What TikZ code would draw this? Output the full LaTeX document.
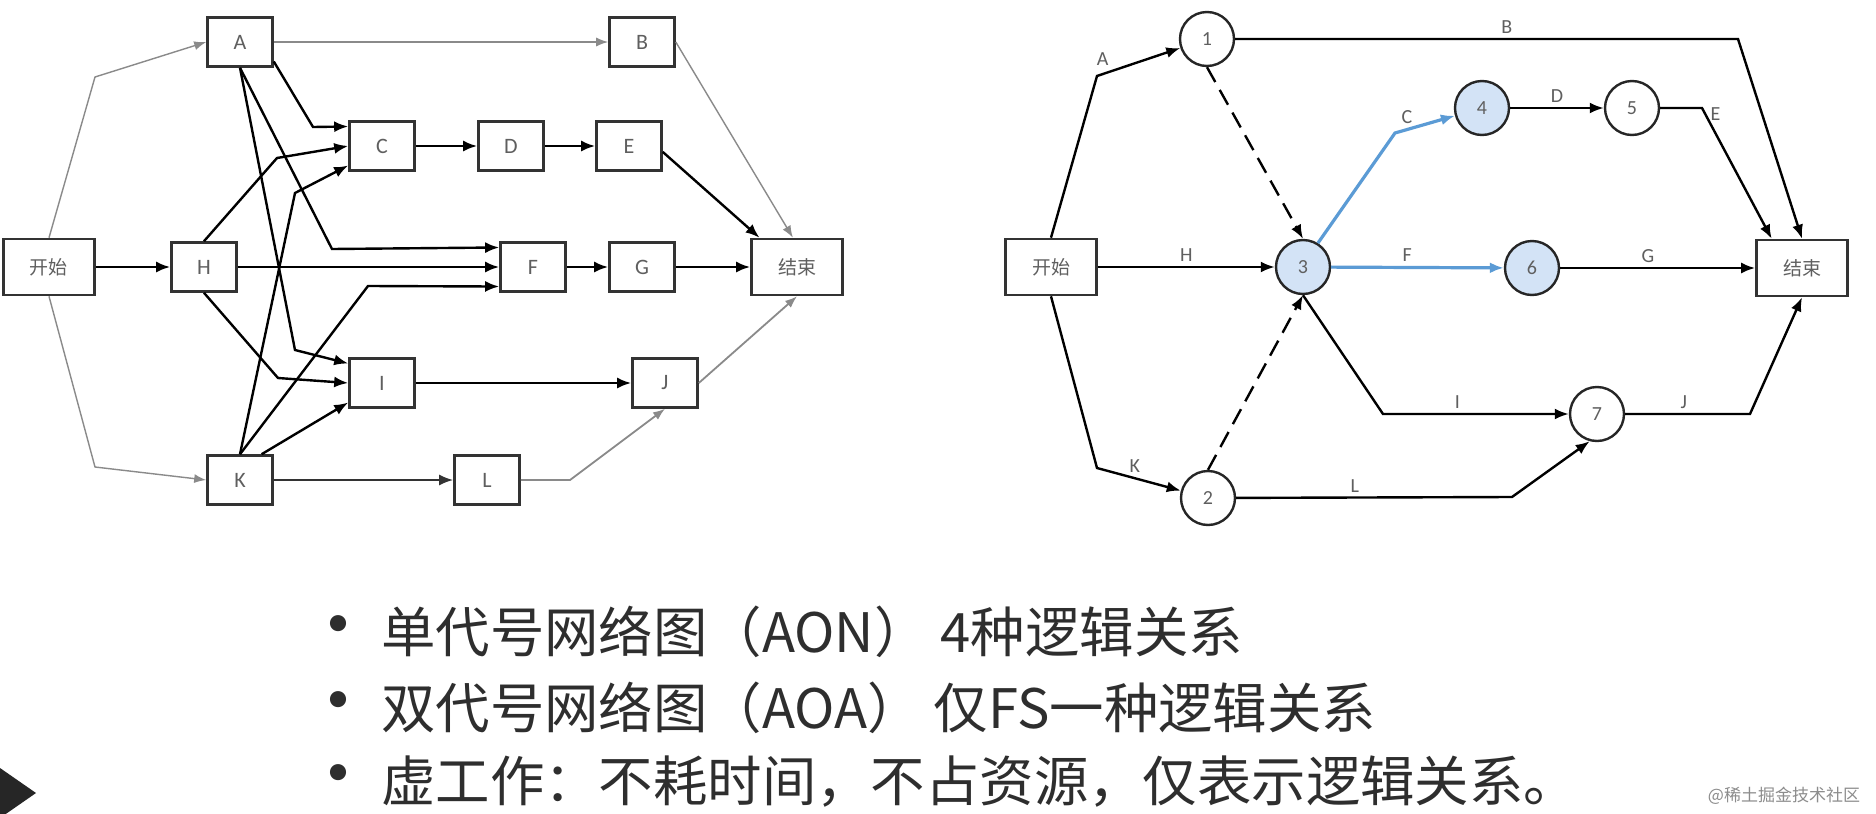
\documentclass[tikz,border=0pt]{standalone}
\usepackage{fontspec}
\setsansfont{Carlito}
\newfontfamily\cjk{Noto Sans CJK SC}
\usetikzlibrary{arrows.meta}
\definecolor{cblue}{HTML}{5B9BD5}
\definecolor{cfill}{HTML}{D3E3F6}
\definecolor{cgrey}{HTML}{5F5F5F}
\definecolor{clight}{HTML}{8A8A8A}
\definecolor{ctext}{HTML}{2E2E2E}
\newcommand{\bdot}{{\fontsize{38}{30}\selectfont•}\hspace{2.5pt}}
\tikzset{
  every picture/.style={font=\sffamily, line width=1.3pt},
  box/.style={draw=black!80, minimum width=32.5pt, minimum height=24.5pt, inner sep=0pt, text=cgrey, font=\sffamily\fontsize{11}{11}\selectfont},
  endbox/.style={box, minimum width=45.5pt, minimum height=28pt, font=\cjk\fontsize{9.5}{10}\selectfont},
  event/.style={circle, draw=black!85, fill=white, line width=1.2pt, minimum size=27pt, inner sep=0pt, text=cgrey, font=\sffamily\fontsize{10}{10}\selectfont},
  crit/.style={event, fill=cfill},
  arr/.style={-{Latex[length=7pt, width=5.5pt]}, draw=black, line width=1.2pt},
  faint/.style={-{Latex[length=6pt, width=4.5pt]}, draw=clight, line width=0.7pt},
  dummy/.style={arr, dash pattern=on 8.5pt off 4.5pt},
  critarr/.style={arr, draw=cblue, line width=1.6pt},
  lbl/.style={font=\sffamily\fontsize{10}{10}\selectfont, text=cgrey, inner sep=2pt},
  bul/.style={anchor=west, font=\cjk\fontsize{27.2}{30}\selectfont, text=ctext, inner sep=0pt},
}

\begin{document}
\begin{tikzpicture}[x=0.5pt, y=-0.5pt]
  \useasboundingbox[fill=white] (0,0) rectangle (1876,814);
  % AON: activity on node
  \node[endbox] (s1) at (49,267) {开始};
  \node[box] (A) at (240,42) {A};
  \node[box] (B) at (642,42) {B};
  \node[box] (C) at (382,146) {C};
  \node[box] (D) at (511,146) {D};
  \node[box] (E) at (629,146) {E};
  \node[box] (H) at (204,267) {H};
  \node[box] (F) at (533,267) {F};
  \node[box] (G) at (642,267) {G};
  \node[endbox] (t1) at (797,267) {结束};
  \node[box] (I) at (382,383) {I};
  \node[box] (J) at (665,383) {J};
  \node[box] (K) at (240,480) {K};
  \node[box] (L) at (487,480) {L};
  \draw[faint] (s1.north) -- (95,77) -- (A.west);
  \draw[faint] (s1.south) -- (95,467) -- (K.west);
  \draw[arr] (s1) -- (H);
  \draw[faint] (A) -- (B);
  \draw[arr] (A.-30) -- (313,127) -- (C.150);
  \draw[arr] (H.north) -- (277,158) -- (C.west);
  \draw[arr] (K.north) -- (295,193) -- (C.210);
  \draw[arr] (A.south) -- (332,249) -- (F.150);
  \draw[arr] (H) -- (F);
  \draw[arr] (K.north) -- (368,286) -- (F.210);
  \draw[arr] (A.south) -- (295,350) -- (I.150);
  \draw[arr] (H.south) -- (278,378) -- (I.west);
  \draw[arr] (K.50) -- (I.210);
  \draw[arr] (C) -- (D);
  \draw[arr] (D) -- (E);
  \draw[arr] (E.-10) -- (t1.142);
  \draw[faint] (B.east) -- (t1.98);
  \draw[arr] (F) -- (G);
  \draw[arr] (G) -- (t1);
  \draw[arr] (I) -- (J);
  \draw[arr, line width=1pt, draw=black!80] (K) -- (L);
  \draw[faint, line width=0.9pt] (L.east) -- (570,480) -- (J.south);
  \draw[faint, line width=0.9pt] (J.east) -- (t1.south);

  % AOA: activity on arrow
  \node[endbox] (s2) at (1051,267) {开始};
  \node[event] (n1) at (1207,39) {1};
  \node[event] (n2) at (1208,498) {2};
  \node[crit] (n3) at (1303,267) {3};
  \node[crit] (n4) at (1482,108) {4};
  \node[event] (n5) at (1632,108) {5};
  \node[crit] (n6) at (1532,268) {6};
  \node[event] (n7) at (1597,414) {7};
  \node[endbox] (t2) at (1802,268) {结束};
  \coordinate (pA) at (1097,76);
  \coordinate (pK) at (1097,468);
  \coordinate (pC) at (1395,133);
  \coordinate (pE) at (1702,108);
  \coordinate (pB) at (1738,39);
  \coordinate (pI) at (1383,414);
  \coordinate (pL) at (1512,497);
  \coordinate (pJ) at (1750,414);
  \draw[arr] (s2.north) -- (pA) -- node[lbl, above left=0pt, pos=0.2] {A} (n1);
  \draw[arr] (s2.south) -- (pK) -- node[lbl, above, pos=0.45] {K} (n2);
  \draw[arr] (s2) -- node[lbl, above] {H} (n3);
  \draw[dummy] (n1.south) -- (n3.north);
  \draw[dummy] (n2.north) -- (n3.south);
  \draw[critarr] (n3.58) -- (pC) -- node[lbl, above, pos=0.2] {C} (n4);
  \draw[critarr] (n3) -- node[lbl, above, pos=0.44] {F} (n6);
  \draw[arr] (n4) -- node[lbl, above] {D} (n5);
  \draw[arr] (n5) -- (pE) -- node[lbl, right, pos=0.05] {E} (t2.136);
  \draw[arr] (n1) -- node[lbl, above, pos=0.54] {B} (pB) -- (t2.north);
  \draw[arr] (n6) -- node[lbl, above, pos=0.45] {G} (t2);
  \draw[arr] (n3.south) -- (pI) -- node[lbl, above, pos=0.4] {I} (n7);
  \draw[arr] (n2) -- node[lbl, above, pos=0.43] {L} (pL) -- (n7.-105);
  \draw[arr] (n7) -- node[lbl, above, pos=0.47] {J} (pJ) -- (t2.south);

  % notes
  \node[bul] (b1) at (299,632) {\bdot 单代号网络图（AON）\ 4种逻辑关系};
  \node[bul] (b2) at (299,708) {\bdot 双代号网络图（AOA）\ 仅FS一种逻辑关系};
  \node[bul] (b3) at (299,782) {\bdot 虚工作：不耗时间，不占资源，仅表示逻辑关系。};
  \fill[black!85] (0,768) -- (36,793) -- (0,818) -- cycle;
  \node[font=\cjk\fontsize{8.5}{9}\selectfont, text=black!45, anchor=east] (wm) at (1868,796) {@稀土掘金技术社区};
\end{tikzpicture}
\end{document}
